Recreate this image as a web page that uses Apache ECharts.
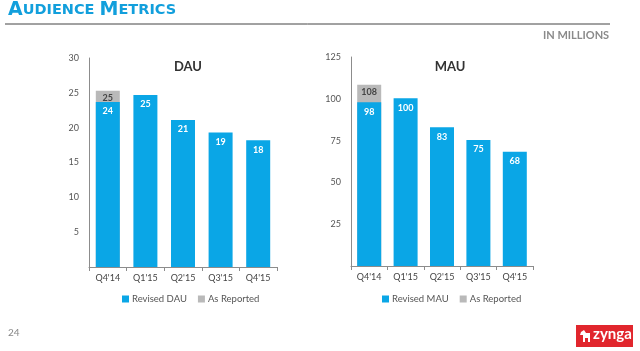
<!DOCTYPE html>
<html>
<head>
<meta charset="utf-8">
<script src="https://cdn.jsdelivr.net/npm/echarts@6/dist/echarts.min.js"></script>
<style>
  html, body { margin: 0; padding: 0; background: #fff; }
  #main { width: 640px; height: 351px; }
</style>
</head>
<body>
<div id="main"></div>
<script>
// quarters on both charts
var quarters = ["Q4'14", "Q1'15", "Q2'15", "Q3'15", "Q4'15"];

// DAU, millions
var dauRevised = [23.7, 24.7, 21.1, 19.3, 18.2];
var dauReported = [25.3, null, null, null, null];

// MAU, millions
var mauRevised = [97.9, 100.4, 83.0, 75.4, 68.4];
var mauReported = [108.4, null, null, null, null];

var blue = '#0aa6e6';
var grey = '#b9b9b9';
var font = 'Lato';

var chart = echarts.init(document.getElementById('main'));

function roundLabel(p) {
    return Math.round(p.value);
}

function yAxis(idx, max, step) {
    return {
        type: 'value',
        gridIndex: idx,
        min: 0,
        max: max,
        interval: step,
        axisLine: { show: true, lineStyle: { color: '#8c8c8c' } },
        axisTick: { show: false },
        splitLine: { show: false },
        axisLabel: {
            color: '#555',
            fontFamily: font,
            fontSize: 9,
            margin: 10,
            formatter: function (v) { return v === 0 ? '' : v; }
        }
    };
}

function xAxis(idx) {
    return {
        type: 'category',
        gridIndex: idx,
        data: quarters,
        axisLine: { lineStyle: { color: '#8c8c8c' } },
        axisTick: { show: true, length: 4, lineStyle: { color: '#8c8c8c' } },
        axisLabel: { color: '#444', fontFamily: font, fontSize: 9, margin: 7 }
    };
}

function reportedSeries(idx, data) {
    return {
        name: 'As Reported',
        type: 'bar',
        xAxisIndex: idx,
        yAxisIndex: idx,
        data: data,
        barWidth: 24,
        barGap: '-100%',
        itemStyle: { color: grey },
        label: {
            show: true,
            position: 'insideTop',
            distance: 3,
            color: '#444',
            fontFamily: font,
            fontWeight: 'bold',
            fontSize: 9,
            formatter: roundLabel
        }
    };
}

function revisedSeries(idx, name, data) {
    return {
        name: name,
        type: 'bar',
        xAxisIndex: idx,
        yAxisIndex: idx,
        data: data,
        barWidth: 24,
        barGap: '-100%',
        itemStyle: { color: blue },
        label: {
            show: true,
            position: 'insideTop',
            distance: 5,
            color: '#fff',
            fontFamily: font,
            fontWeight: 'bold',
            fontSize: 9,
            formatter: roundLabel
        }
    };
}

function legend(first, left) {
    return {
        data: [first, 'As Reported'],
        left: left, top: 294,
        padding: 0,
        itemWidth: 7, itemHeight: 7, itemGap: 11,
        icon: 'rect',
        textStyle: { fontFamily: font, fontSize: 9.5, color: '#555', padding: [0, 0, 0, -2] }
    };
}

chart.setOption({
    animation: false,
    backgroundColor: '#fff',
    title: [
        {
            text: 'DAU', left: 183, top: 55, textAlign: 'center',
            textStyle: { fontFamily: font, fontSize: 13, fontWeight: 'bold', color: '#333' }
        },
        {
            text: 'MAU', left: 445, top: 55, textAlign: 'center',
            textStyle: { fontFamily: font, fontSize: 13, fontWeight: 'bold', color: '#333' }
        }
    ],
    legend: [legend('Revised DAU', 122), legend('Revised MAU', 382)],
    grid: [
        { left: 89, top: 58, width: 188, height: 209 },
        { left: 351, top: 57, width: 182, height: 209 }
    ],
    xAxis: [xAxis(0), xAxis(1)],
    yAxis: [yAxis(0, 30, 5), yAxis(1, 125, 25)],
    series: [
        reportedSeries(0, dauReported),
        revisedSeries(0, 'Revised DAU', dauRevised),
        reportedSeries(1, mauReported),
        revisedSeries(1, 'Revised MAU', mauRevised)
    ],
    graphic: [
        {
            type: 'text', left: 8, top: 1,
            style: {
                text: '{b|A}{s|UDIENCE }{b|M}{s|ETRICS}',
                rich: {
                    b: { fontFamily: 'DejaVu Sans', fontSize: 19, fontWeight: 'bold', fill: '#129fdc' },
                    s: { fontFamily: 'DejaVu Sans', fontSize: 14.5, fontWeight: 'bold', fill: '#129fdc' }
                }
            }
        },
        {
            type: 'line',
            shape: { x1: 5, y1: 24, x2: 610, y2: 24 },
            style: { stroke: '#444', lineWidth: 1 }
        },
        {
            type: 'text', left: 543, top: 30,
            style: { text: 'IN MILLIONS', fontFamily: font, fontSize: 11, fontWeight: 'bold', fill: '#8a8a8a' }
        },
        {
            type: 'text', left: 8, top: 328,
            style: { text: '24', fontFamily: font, fontSize: 10, fill: '#888' }
        },
        {
            type: 'group', left: 576, top: 325,
            children: [
                { type: 'rect', shape: { x: 0, y: 0, width: 57, height: 22 }, style: { fill: '#e1262d' } },
                {
                    type: 'text', x: 17, y: 2,
                    style: { text: 'zynga', fontFamily: font, fontSize: 15, fontWeight: 'bold', fill: '#fff' }
                },
                {
                    type: 'polygon',
                    shape: { points: [[5, 7], [8, 5], [10, 8], [14, 8], [14, 17], [12, 17], [12, 13], [9, 13], [9, 17], [7, 17], [7, 10], [4, 10]] },
                    style: { fill: '#fff' }
                }
            ]
        }
    ]
});
</script>
</body>
</html>
